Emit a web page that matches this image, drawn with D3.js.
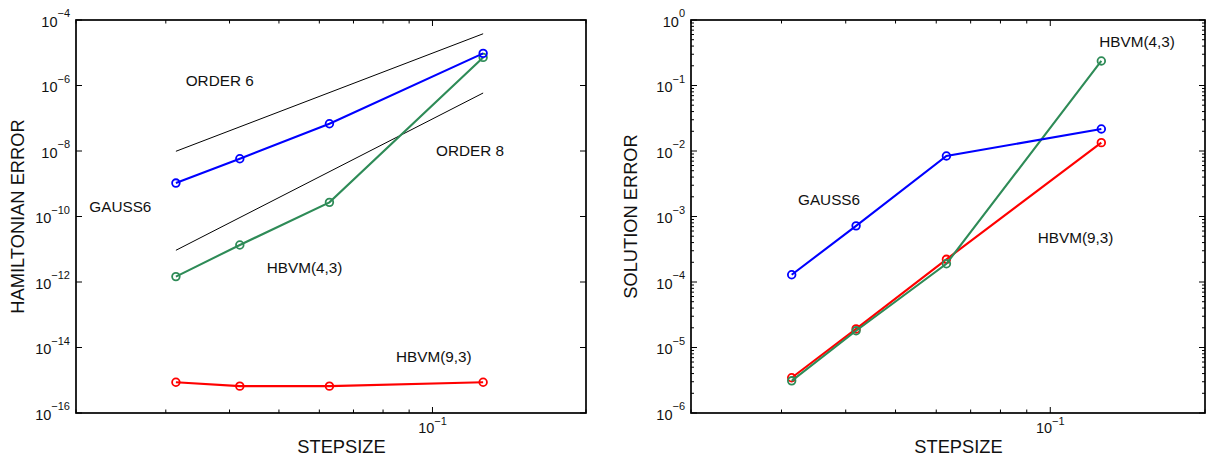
<!DOCTYPE html>
<html>
<head>
<meta charset="utf-8">
<script src="https://cdn.jsdelivr.net/npm/d3@7"></script>
<style>
  html, body { margin: 0; padding: 0; background: #fff; }
  svg { display: block; }
  text { font-family: "Liberation Sans", Arial, sans-serif; fill: #111; }
</style>
</head>
<body>
<svg id="chart" width="1209" height="458"></svg>
<script>
// ---------------- DATA ----------------
const stepsizes = [0.0314, 0.0419, 0.0628, 0.1257];

// Left panel: Hamiltonian error
const hamGauss6 = [1.05e-9, 5.8e-9, 6.8e-8, 9.6e-6];
const hamHbvm43 = [1.46e-12, 1.35e-11, 2.7e-10, 7.2e-6];
const hamHbvm93 = [8.7e-16, 6.6e-16, 6.6e-16, 8.7e-16];

// Reference slopes (endpoints at first and last stepsize)
const orderX = [0.0314, 0.1257];
const order6 = [9.8e-9, 3.8e-5];
const order8 = [9.3e-12, 5.9e-7];

// Right panel: solution error
const solGauss6 = [1.29e-4, 7.2e-4, 8.4e-3, 2.17e-2];
const solHbvm43 = [3.1e-6, 1.8e-5, 1.9e-4, 0.237];
const solHbvm93 = [3.45e-6, 1.92e-5, 2.22e-4, 1.34e-2];

// Axis ranges and tick exponents
const xDomain = [0.02, 0.2];
const leftYDomain = [1e-16, 1e-4];
const leftYExps = [-16, -14, -12, -10, -8, -6, -4];
const rightYDomain = [1e-6, 1e0];
const rightYExps = [-6, -5, -4, -3, -2, -1, 0];
const xMajorExps = [-1];

// ---------------- DRAW ----------------
const svg = d3.select("#chart");
const COLORS = { gauss: "#0000ff", hbvm43: "#2e8b57", hbvm93: "#ff0000" };

function supLabel(sel, exp, supDy) {
  sel.append("tspan").text("10");
  sel.append("tspan").attr("dy", supDy).attr("font-size", 11)
     .text(exp === 0 ? "0" : "\u2212" + Math.abs(exp));
}

function panel(opt) {
  const g = svg.append("g");
  const x = d3.scaleLog().domain(xDomain).range([opt.x0, opt.x1]);
  const y = d3.scaleLog().domain(opt.yDomain).range([opt.y1, opt.y0]);

  // x ticks: minor 0.02..0.09 and 0.2, major 0.1
  const xMinor = [];
  [0.01, 0.1].forEach(base => { for (let k = 2; k <= 9; k++) xMinor.push(base * k); });
  const xMin = xMinor.filter(v => v >= xDomain[0] && v <= xDomain[1]);
  const tickG = g.append("g").attr("stroke", "#000").attr("stroke-width", 1);
  xMin.forEach(v => {
    const px = x(v);
    tickG.append("line").attr("x1", px).attr("x2", px).attr("y1", opt.y1).attr("y2", opt.y1 - 3.5);
    tickG.append("line").attr("x1", px).attr("x2", px).attr("y1", opt.y0).attr("y2", opt.y0 + 3.5);
  });
  xMajorExps.forEach(e => {
    const px = x(Math.pow(10, e));
    tickG.append("line").attr("x1", px).attr("x2", px).attr("y1", opt.y1).attr("y2", opt.y1 - 6);
    tickG.append("line").attr("x1", px).attr("x2", px).attr("y1", opt.y0).attr("y2", opt.y0 + 6);
    const t = g.append("text").attr("x", px).attr("y", opt.y1 + 20)
      .attr("text-anchor", "middle").attr("font-size", 14.5);
    supLabel(t, e, -8);
  });

  // y ticks
  opt.yExps.forEach(e => {
    const py = y(Math.pow(10, e));
    tickG.append("line").attr("x1", opt.x0).attr("x2", opt.x0 + 6).attr("y1", py).attr("y2", py);
    tickG.append("line").attr("x1", opt.x1).attr("x2", opt.x1 - 6).attr("y1", py).attr("y2", py);
    const t = g.append("text").attr("x", opt.x0 - 6).attr("y", py + 6.5)
      .attr("text-anchor", "end").attr("font-size", 14.5);
    supLabel(t, e, -9.5);
  });
  if (opt.yMinor) {
    const lo = Math.log10(opt.yDomain[0]), hi = Math.log10(opt.yDomain[1]);
    for (let e = lo; e < hi; e++) {
      for (let k = 2; k <= 9; k++) {
        const py = y(k * Math.pow(10, e));
        tickG.append("line").attr("x1", opt.x0).attr("x2", opt.x0 + 3).attr("y1", py).attr("y2", py);
        tickG.append("line").attr("x1", opt.x1).attr("x2", opt.x1 - 3).attr("y1", py).attr("y2", py);
      }
    }
  }

  // box
  g.append("rect").attr("x", opt.x0).attr("y", opt.y0)
    .attr("width", opt.x1 - opt.x0).attr("height", opt.y1 - opt.y0)
    .attr("fill", "none").attr("stroke", "#000").attr("stroke-width", 1.7);

  // reference lines
  (opt.refs || []).forEach(r => {
    const line = d3.line().x(d => x(d[0])).y(d => y(d[1]));
    g.append("path").attr("d", line(orderX.map((v, i) => [v, r[i]])))
      .attr("fill", "none").attr("stroke", "#000").attr("stroke-width", 1);
  });

  // series
  opt.series.forEach(s => {
    const pts = stepsizes.map((v, i) => [v, s.values[i]]);
    const line = d3.line().x(d => x(d[0])).y(d => y(d[1]));
    g.append("path").attr("d", line(pts)).attr("fill", "none")
      .attr("stroke", s.color).attr("stroke-width", 2.1);
    g.selectAll(null).data(pts).enter().append("circle")
      .attr("cx", d => x(d[0])).attr("cy", d => y(d[1])).attr("r", 3.8)
      .attr("fill", "none").attr("stroke", s.color).attr("stroke-width", 1.8);
  });

  // annotations (pixel offsets from plot origin)
  opt.labels.forEach(l => {
    g.append("text").attr("x", opt.x0 + l.dx).attr("y", opt.y0 + l.dy)
      .attr("font-size", 15.3).text(l.text);
  });

  // axis labels
  g.append("text").attr("x", (opt.x0 + opt.x1) / 2 + 10.5).attr("y", 453)
    .attr("text-anchor", "middle").attr("font-size", 18.3).text("STEPSIZE");
  g.append("text")
    .attr("transform", `translate(${opt.ylabX},${(opt.y0 + opt.y1) / 2}) rotate(-90)`)
    .attr("text-anchor", "middle").attr("font-size", 18.3).text(opt.ylabel);
}

panel({
  x0: 76, x1: 586, y0: 20, y1: 413,
  yDomain: leftYDomain, yExps: leftYExps, yMinor: false,
  ylabel: "HAMILTONIAN ERROR", ylabX: 24,
  refs: [order6, order8],
  series: [
    { values: hamHbvm93, color: COLORS.hbvm93 },
    { values: hamHbvm43, color: COLORS.hbvm43 },
    { values: hamGauss6, color: COLORS.gauss }
  ],
  labels: [
    { text: "ORDER 6", dx: 109.7, dy: 66 },
    { text: "GAUSS6", dx: 13.3, dy: 192 },
    { text: "ORDER 8", dx: 360, dy: 135.5 },
    { text: "HBVM(4,3)", dx: 190.7, dy: 253 },
    { text: "HBVM(9,3)", dx: 320, dy: 341.5 }
  ]
});

panel({
  x0: 691, x1: 1205, y0: 20, y1: 413,
  yDomain: rightYDomain, yExps: rightYExps, yMinor: true,
  ylabel: "SOLUTION ERROR", ylabX: 637,
  series: [
    { values: solHbvm93, color: COLORS.hbvm93 },
    { values: solHbvm43, color: COLORS.hbvm43 },
    { values: solGauss6, color: COLORS.gauss }
  ],
  labels: [
    { text: "GAUSS6", dx: 107, dy: 185 },
    { text: "HBVM(4,3)", dx: 408.3, dy: 27 },
    { text: "HBVM(9,3)", dx: 346.7, dy: 223 }
  ]
});
</script>
</body>
</html>
